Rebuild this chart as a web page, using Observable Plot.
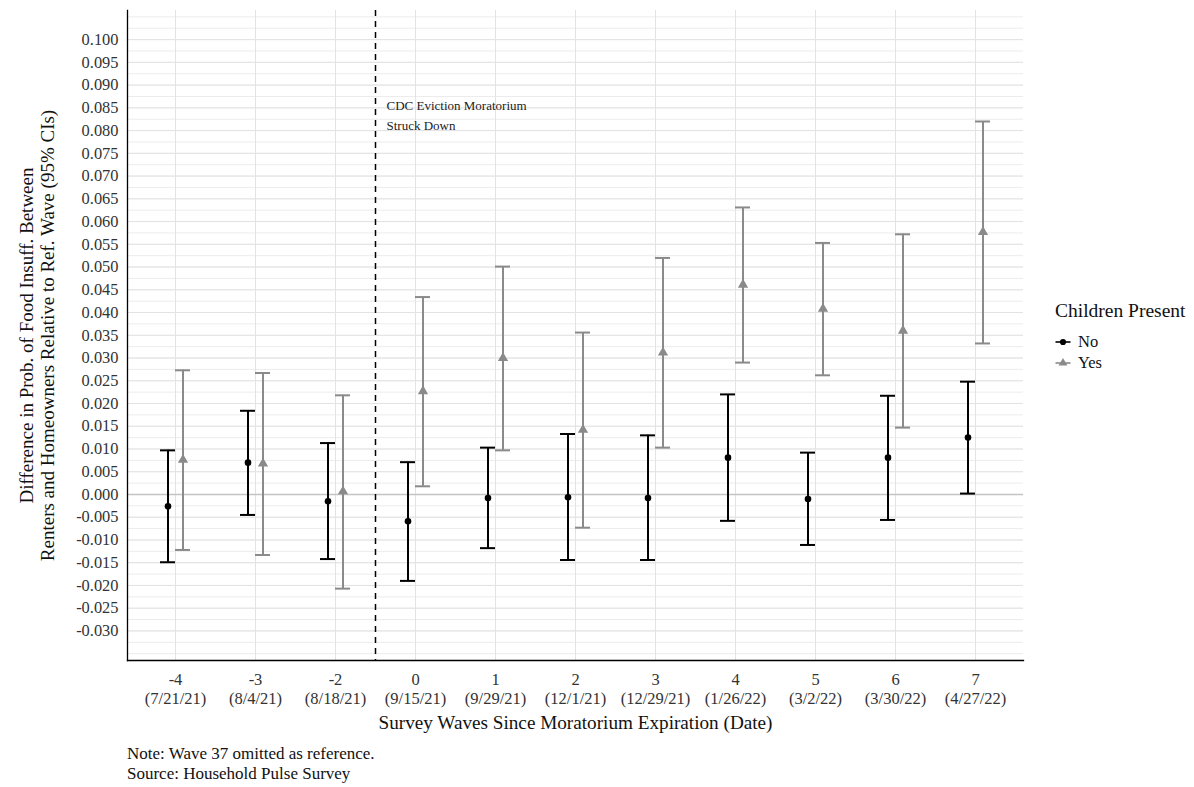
<!DOCTYPE html>
<html>
<head>
<meta charset="utf-8">
<script src="https://cdn.jsdelivr.net/npm/d3@7"></script>
<script src="https://cdn.jsdelivr.net/npm/@observablehq/plot@0.6"></script>
<style>
  html, body { margin: 0; padding: 0; background: #fff; }
  #wrap { position: relative; width: 1194px; height: 787px; font-family: 'Liberation Serif', 'DejaVu Serif', serif; color: #000; }
  #legend { position: absolute; left: 1055px; top: 299px; }
  #legend .title { font-size: 19.5px; line-height: 24px; margin-bottom: 8px; color: #111; }
  #legend .item { display: flex; align-items: center; font-size: 16.5px; height: 21px; color: #111; }
  #legend svg { margin-right: 7px; }
  #notes { position: absolute; left: 127px; top: 744px; font-size: 17px; line-height: 20px; color: #111; }
</style>
</head>
<body>
<div id="wrap">
  <div id="chart"></div>
  <div id="legend"></div>
  <div id="notes"></div>
</div>
<script>
// ---- data ----
const waves = ["-4", "-3", "-2", "0", "1", "2", "3", "4", "5", "6", "7"];
const dates = ["7/21/21", "8/4/21", "8/18/21", "9/15/21", "9/29/21", "12/1/21", "12/29/21", "1/26/22", "3/2/22", "3/30/22", "4/27/22"];
const groups = ["No", "Yes"];
const noEst = [-0.0026, 0.0070, -0.0015, -0.0059, -0.0008, -0.0006, -0.0008, 0.0081, -0.0010, 0.0081, 0.0125];
const noLo  = [-0.0149, -0.0045, -0.0142, -0.0190, -0.0118, -0.0144, -0.0144, -0.0058, -0.0111, -0.0056, 0.0002];
const noHi  = [0.0097, 0.0184, 0.0113, 0.0071, 0.0103, 0.0133, 0.0130, 0.0220, 0.0092, 0.0217, 0.0248];
const yesEst = [0.0076, 0.0068, 0.0007, 0.0227, 0.0300, 0.0142, 0.0312, 0.0461, 0.0408, 0.0360, 0.0577];
const yesLo  = [-0.0122, -0.0133, -0.0207, 0.0018, 0.0097, -0.0073, 0.0103, 0.0290, 0.0262, 0.0147, 0.0332];
const yesHi  = [0.0273, 0.0267, 0.0218, 0.0434, 0.0501, 0.0356, 0.0520, 0.0631, 0.0553, 0.0572, 0.0820];
const eventAfterWave = "-2";
const eventLabel = "CDC Eviction Moratorium\nStruck Down";
const eventLabelY = 0.0876;
const yDomain = [-0.0365, 0.1064];
const yMajor = d3.range(-30, 101, 5).map(v => v / 1000);
const yAllGrid = d3.range(-35, 106, 2.5).map(v => v / 1000);
const yTitle = "Difference in Prob. of Food Insuff. Between\nRenters and Homeowners Relative to Ref. Wave (95% CIs)";
const xTitle = "Survey Waves Since Moratorium Expiration (Date)";
const legendTitle = "Children Present";
const noteLines = ["Note: Wave 37 omitted as reference.", "Source: Household Pulse Survey"];

// ---- build rows ----
const noRows = waves.map((w, i) => ({wave: w, est: noEst[i], lo: noLo[i], hi: noHi[i]}));
const yesRows = waves.map((w, i) => ({wave: w, est: yesEst[i], lo: yesLo[i], hi: yesHi[i]}));
const tickRows = waves.map((w, i) => ({wave: w, label: w + "\n(" + dates[i] + ")"}));

const colNo = "#000000", colYes = "#8a8a8a";
const dodge = 7.5, capInset = 24.5;

function errMarks(rows, color, dx, symbol, r) {
  return [
    Plot.ruleX(rows, {x: "wave", y1: "lo", y2: "hi", dx, stroke: color, strokeWidth: 2}),
    Plot.tickY(rows, {x: "wave", y: "lo", dx, insetLeft: capInset, insetRight: capInset, stroke: color, strokeWidth: 2}),
    Plot.tickY(rows, {x: "wave", y: "hi", dx, insetLeft: capInset, insetRight: capInset, stroke: color, strokeWidth: 2}),
    Plot.dot(rows, {x: "wave", y: "est", dx, symbol, r, fill: color, stroke: "none"})
  ];
}

const chart = Plot.plot({
  width: 1194,
  height: 740,
  marginLeft: 127,
  marginRight: 171,
  marginTop: 10,
  marginBottom: 80,
  style: {fontFamily: "'Liberation Serif', 'DejaVu Serif', serif", fontSize: "16px", background: "#fff", overflow: "visible"},
  x: {type: "band", domain: waves, paddingInner: 0.2, paddingOuter: 0.2, align: 0.5, round: false, label: null, axis: null},
  y: {domain: yDomain, label: null},
  marks: [
    Plot.ruleY(yAllGrid, {stroke: "#ececec", strokeWidth: 1}),
    Plot.ruleY(yMajor, {stroke: "#e3e3e3", strokeWidth: 1}),
    Plot.gridX({stroke: "#e3e3e3", strokeOpacity: 1, strokeWidth: 1}),
    Plot.ruleY([0], {stroke: "#c4c4c4", strokeWidth: 1.6}),
    Plot.ruleX([eventAfterWave], {dx: 40, stroke: "#000", strokeWidth: 1.5, strokeDasharray: "6,5"}),
    Plot.text([eventLabel], {x: () => eventAfterWave, y: () => eventLabelY, text: d => d, dx: 51, textAnchor: "start", lineAnchor: "top", lineHeight: 1.55, fontSize: 13, fill: "#222"}),
    ...errMarks(noRows, colNo, -dodge, "circle", 3.3),
    ...errMarks(yesRows, colYes, dodge, "triangle", 3.8),
    Plot.axisY({ticks: yMajor, tickSize: 0, tickPadding: 9, tickFormat: d => d.toFixed(3), fontSize: 16.4, fill: "#333", label: null}),
    Plot.text(tickRows, {x: "wave", text: "label", frameAnchor: "bottom", lineAnchor: "top", dy: 10, lineHeight: 1.2, fontSize: 16.5, fill: "#333"}),
    Plot.frame({anchor: "left", stroke: "#000", strokeWidth: 1.3}),
    Plot.frame({anchor: "bottom", stroke: "#000", strokeWidth: 1.3}),
    Plot.text([yTitle], {frameAnchor: "left", text: d => d, rotate: -90, textAnchor: "middle", lineAnchor: "middle", dx: -91, fontSize: 19, lineHeight: 1.15, fill: "#111"}),
    Plot.text([xTitle], {frameAnchor: "bottom", text: d => d, lineAnchor: "middle", dy: 62, fontSize: 19.2, fill: "#111"})
  ]
});
document.getElementById("chart").appendChild(chart);

// ---- legend ----
const leg = document.getElementById("legend");
const t = document.createElement("div");
t.className = "title";
t.textContent = legendTitle;
leg.appendChild(t);
const legColors = [colNo, colYes];
const legSymbols = [d3.symbolCircle, d3.symbolTriangle];
groups.forEach((g, i) => {
  const item = document.createElement("div");
  item.className = "item";
  const s = d3.create("svg").attr("width", 16).attr("height", 12);
  s.append("line").attr("x1", 0.5).attr("x2", 15.5).attr("y1", 6).attr("y2", 6).attr("stroke", legColors[i]).attr("stroke-width", 1.6);
  s.append("path").attr("d", d3.symbol(legSymbols[i], i === 0 ? 30 : 34)()).attr("transform", "translate(8,6)").attr("fill", legColors[i]);
  item.appendChild(s.node());
  const lab = document.createElement("span");
  lab.textContent = g;
  item.appendChild(lab);
  leg.appendChild(item);
});

// ---- notes ----
const notes = document.getElementById("notes");
noteLines.forEach(l => { const d = document.createElement("div"); d.textContent = l; notes.appendChild(d); });
</script>
</body>
</html>
